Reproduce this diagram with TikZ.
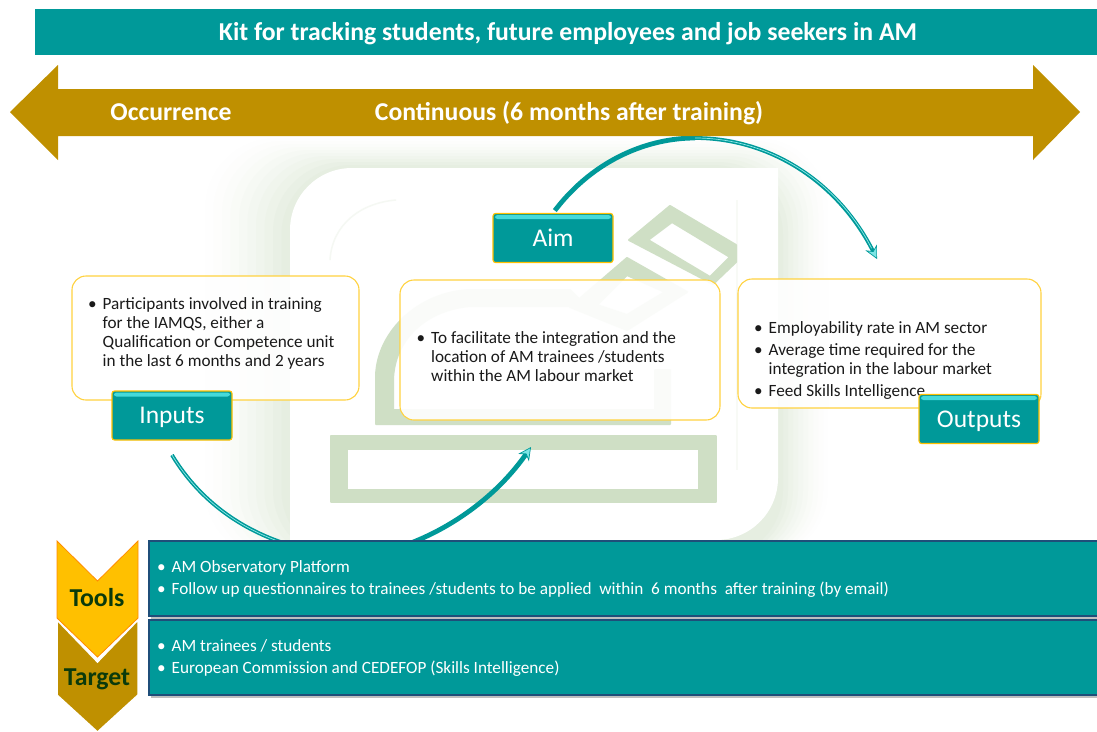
\documentclass[tikz,border=0pt]{standalone}
\usepackage{fontspec}
\setmainfont{Carlito}
\usetikzlibrary{arrows.meta,shadows}
\definecolor{teal1}{HTML}{009999}
\definecolor{cyan1}{HTML}{45DADA}
\definecolor{gold1}{HTML}{BF9000}
\definecolor{amber}{HTML}{FFC000}
\definecolor{edgeY}{HTML}{FFD23F}
\definecolor{logo}{HTML}{CFDFC5}
\definecolor{glow}{HTML}{E6EEE1}
\definecolor{navy}{HTML}{1F4E79}
\definecolor{ink}{HTML}{1A1A1A}
\definecolor{dgreen}{HTML}{0B3A0B}
\newcommand{\bl}[1]{\llap{\textbullet\hspace{6pt}}#1}
\tikzset{
  x=1pt,y=-1pt,
  banner/.style={fill=teal1,text=white,font=\fontsize{25.75}{30}\selectfont\bfseries,inner sep=0pt,minimum width=1062pt,minimum height=46pt,text height=16pt,text depth=0pt},
  goldtext/.style={text=white,font=\fontsize{25.7}{29}\selectfont\bfseries,inner sep=0pt,text height=16pt,text depth=0pt},
  card/.style={draw=edgeY,line width=1.1pt,fill=white,fill opacity=.9,rounded corners=14pt,inner sep=0pt},
  body/.style={text=ink,font=\fontsize{17.2}{19}\selectfont,align=left,anchor=north west,inner sep=0pt},
  bartext/.style={text=white,font=\fontsize{17.2}{22}\selectfont,align=left,anchor=north west,inner sep=0pt},
  btn/.style={draw=amber,line width=1.1pt,fill=teal1,rounded corners=2.5pt,text=white,inner sep=0pt,
    font=\fontsize{25.5}{28}\selectfont,minimum width=120pt,minimum height=49pt,text height=16pt,text depth=0pt,
    path picture={\fill[cyan1] ([xshift=2pt,yshift=-1.5pt]path picture bounding box.north west) rectangle ([xshift=-2pt,yshift=-5.5pt]path picture bounding box.north east);}},
  bar/.style={draw=navy,line width=1.2pt,fill=teal1,minimum width=950pt,minimum height=75pt,inner sep=0pt,
    drop shadow={shadow xshift=2pt,shadow yshift=-3pt,fill=black,opacity=.25}},
  swoosh/.style={draw=teal1,line width=3.8pt},
  gleam/.style={draw=cyan1!60!white,line width=.7pt},
  swooshtip/.style={-{Stealth[length=13pt,width=13pt,fill=cyan1!70!white,color=teal1,line width=.7pt]}},
  chevlabel/.style={text=dgreen,font=\fontsize{25.8}{29}\selectfont\bfseries,inner sep=0pt,text height=16pt,text depth=0pt},
  logopart/.style={fill=logo,draw=logo,line width=2pt,line join=round},
}
\begin{document}
\begin{tikzpicture}
\useasboundingbox (0,0) rectangle (1097,731);
% watermark glow
\foreach \i in {10,9,...,1}{
  \pgfmathsetmacro{\mixv}{(11-\i)^1.5*3.2}
  \fill[glow!\mixv!white,rounded corners=70pt] (290-8.5*\i,168-3*\i) rectangle (778+5*\i,560);
}
\fill[white] (290,560) [rounded corners=62pt] -- (290,168) [sharp corners] -- (778,168) -- (778,300) [rounded corners=62pt] -- (778,540) -- (500,540) [sharp corners] -- (290,540) -- cycle;
% watermark faint lines
\draw[glow!40!white,line width=1.5pt] (330,260) .. controls (332,225) and (360,203) .. (396,200);
\draw[glow!30!white,line width=1.5pt] (737,200) -- (737,470);
% watermark logo
\path[logopart,even odd rule] (331,436) rectangle (716,502) (347,449) rectangle (699,490);
\path[logopart,even odd rule] (376,424) -- (376,375) .. controls (378,330) and (420,292) .. (470,290) -- (570,290) -- (580,300) -- (570,306) -- (470,306) .. controls (425,310) and (394,340) .. (393,380) -- (393,410) -- (655,410) -- (655,370) -- (670,370) -- (670,424) -- cycle;
\path[logopart,even odd rule] (670,206) -- (736,245) -- (736,262) -- (713,284) -- (629,240) -- cycle (672,222) -- (648,240) -- (710,277) -- (730,257) -- cycle;
\path[logopart,even odd rule] (627,258) -- (687,292) -- (627,330) -- (570,307) -- cycle (627,275) -- (597,305) -- (627,315) -- (665,292) -- cycle;
% title
\node[banner] (title) at (566,32) {\hspace{4pt}Kit for tracking students, future employees and job seekers in AM};
% cards
\node[card,minimum width=287pt,minimum height=124pt] (incard) at (215.5,338) {};
\node[card,minimum width=320pt,minimum height=140pt] (aimcard) at (560,350) {};
\node[card,minimum width=303pt,minimum height=129pt] (outcard) at (889.5,343.5) {};
% card text
\node[body] (intext) at (102.5,297) {\bl{Participants involved in training}\\for the IAMQS, either a\\Qualification or Competence unit\\in the last 6 months and 2 years};
\node[body] (aimtext) at (431,331) {\bl{To facilitate the integration and the}\\location of AM trainees /students\\within the AM labour market};
\node[body] (outtext) at (768.5,321) {\bl{Employability rate in AM sector}\\[3pt]\bl{Average time required for the}\\integration in the labour market\\[3pt]\bl{Feed Skills Intelligence}};
% buttons
\node[btn] (inputs) at (172,415.5) {Inputs};
\node[btn] (aim) at (553,238) {Aim};
\node[btn] (outputs) at (979,419) {Outputs};
% curved connectors
\coordinate (topend) at (877,259);
\coordinate (lowstart) at (172,455);
\coordinate (lowend) at (531,447);
\coordinate (topmid) at (695,138);
\coordinate (lowmid) at (350,556);
\draw[swoosh,line width=4.8pt,shorten <=3pt] (aim.north) .. controls (595,158) and (650,138) .. (topmid);
\draw[swoosh,swooshtip] (topmid) .. controls (770,138) and (838,182) .. (topend);
\draw[gleam,shorten >=12pt] (topmid) .. controls (770,138) and (838,182) .. (topend);
\draw[swoosh] (lowstart) .. controls (205,510) and (265,550) .. (lowmid);
\draw[gleam] (lowstart) .. controls (205,510) and (265,550) .. (lowmid);
\draw[swoosh,line width=4.8pt,swooshtip] (lowmid) .. controls (400,556) and (480,520) .. (lowend);
% gold arrow
\fill[gold1] (10,112) -- (58,65) -- (58,89) -- (1033,89) -- (1033,65) -- (1080,112) -- (1033,160) -- (1033,136) -- (58,136) -- (58,160) -- cycle;
\node[goldtext] (occ) at (171,112) {Occurrence};
\node[goldtext] (cont) at (569,112) {Continuous (6 months after training)};
% bars
\node[bar] (toolsbar) at (624,578.5) {};
\node[bar] (targetbar) at (624,657.5) {};
\node[bartext] (toolstext) at (171.5,560) {\bl{AM Observatory Platform}\\\bl{Follow up questionnaires to trainees /students to be applied\ \ within\ \ 6 months\ \ after training (by email)}};
\node[bartext] (targettext) at (171.5,639) {\bl{AM trainees / students}\\\bl{European Commission and CEDEFOP (Skills Intelligence)}};
% chevrons
\fill[gold1,draw=white,line width=1.5pt] (57,620) -- (97.5,662) -- (138,620) -- (138,695) -- (97.5,732) -- (57,695) -- cycle;
\fill[amber,draw=orange!80!amber,line width=.8pt] (57,541) -- (97.5,581) -- (138,541) -- (138,618) -- (97.5,657) -- (57,618) -- cycle;
\node[chevlabel] (tools) at (97,598) {Tools};
\node[chevlabel] (target) at (97,677) {Target};
\end{tikzpicture}
\end{document}
